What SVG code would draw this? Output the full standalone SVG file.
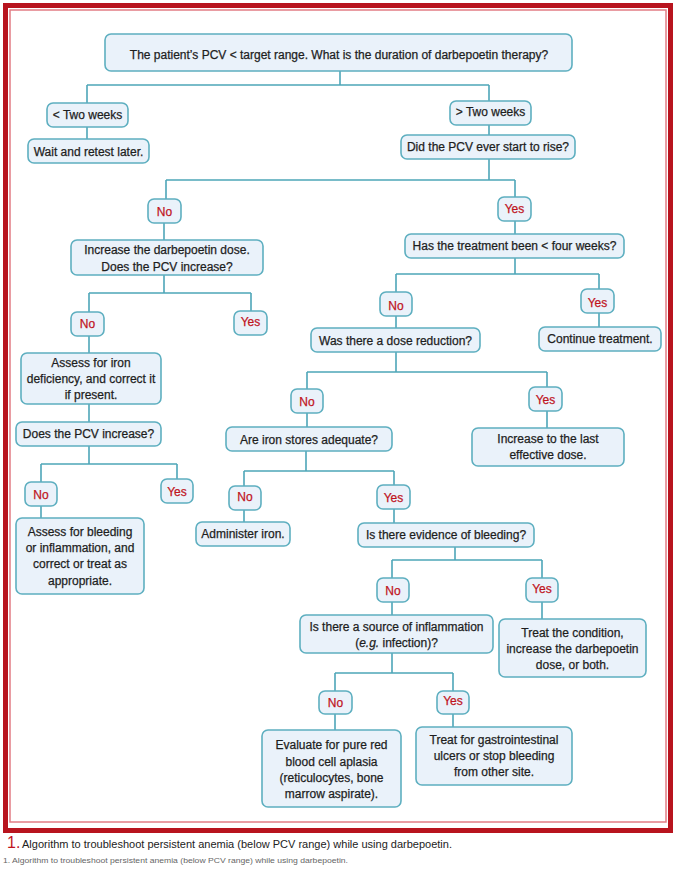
<svg xmlns="http://www.w3.org/2000/svg" width="680" height="872" viewBox="0 0 680 872">
<style>
.box{fill:#eaf2fa;stroke:#5eafc0;stroke-width:1.6}
.t{font-family:"Liberation Sans",Arial,sans-serif;font-size:12px;fill:#1e1e1e;stroke:#1e1e1e;stroke-width:0.25;text-anchor:middle}
.yn{font-family:"Liberation Sans",Arial,sans-serif;font-size:12px;fill:#c0141e;stroke:#c0141e;stroke-width:0.25;text-anchor:middle}
.c{fill:none;stroke:#4ea6b8;stroke-width:1.6}
</style>
<rect x="0" y="0" width="680" height="872" fill="#ffffff"/>
<rect x="5.5" y="5.5" width="665" height="825" fill="none" stroke="#b8141e" stroke-width="5"/>
<rect x="10" y="10" width="656" height="812" fill="none" stroke="#e27c84" stroke-width="1.5"/>

<g id="connectors" class="c">
<path d="M340 71V85M87 85H489M87 85V103M489 85V101"/>
<path d="M87 127V139"/>
<path d="M489 125V135"/>
<path d="M489 159V180M166 180H515M166 180V199M515 180V197"/>
<path d="M164 223V240"/>
<path d="M164 275V293M89 293H251M89 293V312M251 293V311"/>
<path d="M89 336V353"/>
<path d="M89 404V422"/>
<path d="M89 446V464M41 464H177M41 464V482M177 464V479"/>
<path d="M41 506V518"/>
<path d="M515 221V234"/>
<path d="M515 258V274M396 274H599M396 274V292M599 274V289"/>
<path d="M396 316V328M599 313V327"/>
<path d="M396 352V372M307 372H547M307 372V389M547 372V387"/>
<path d="M307 413V427M547 411V428"/>
<path d="M306 451V471M244 471H394M244 471V486M394 471V485"/>
<path d="M244 510V522M394 509V523"/>
<path d="M455 547V560M392 560H542M392 560V578M542 560V578"/>
<path d="M392 602V615M542 602V619"/>
<path d="M392 653V673M335 673H453M335 673V691M453 673V691"/>
<path d="M335 714V730M453 714V727"/>
</g>

<g id="n_top"><rect class="box" x="105" y="34" width="467" height="37" rx="6"/><text class="t" x="339" y="59">The patient’s PCV &lt; target range. What is the duration of darbepoetin therapy?</text></g>
<g id="n_lt2"><rect class="box" x="47" y="103" width="81" height="24" rx="6"/><text class="t" x="87.5" y="119">&lt; Two weeks</text></g>
<g id="n_wait"><rect class="box" x="28" y="139" width="121" height="24" rx="6"/><text class="t" x="88.5" y="156">Wait and retest later.</text></g>
<g id="n_gt2"><rect class="box" x="450" y="101" width="81" height="24" rx="6"/><text class="t" x="490.5" y="116">&gt; Two weeks</text></g>
<g id="n_rise"><rect class="box" x="401" y="135" width="174" height="24" rx="6"/><text class="t" x="488" y="151">Did the PCV ever start to rise?</text></g>
<g id="n_no1"><rect class="box" x="148" y="199" width="33" height="24" rx="6"/><text class="yn" x="164.5" y="215.5">No</text></g>
<g id="n_incdose"><rect class="box" x="71" y="240" width="192" height="35" rx="6"/><text class="t" x="167" y="254">Increase the darbepoetin dose.</text><text class="t" x="167" y="270.5">Does the PCV increase?</text></g>
<g id="n_no2"><rect class="box" x="71" y="312" width="33" height="24" rx="6"/><text class="yn" x="87.5" y="328">No</text></g>
<g id="n_yes2"><rect class="box" x="234" y="311" width="33" height="24" rx="6"/><text class="yn" x="250.5" y="326">Yes</text></g>
<g id="n_iron1"><rect class="box" x="21" y="353" width="140" height="51" rx="6"/><text class="t" x="91" y="366.5">Assess for iron</text><text class="t" x="91" y="383">deficiency, and correct it</text><text class="t" x="91" y="399">if present.</text></g>
<g id="n_pcv2"><rect class="box" x="16" y="422" width="145" height="24" rx="6"/><text class="t" x="88.5" y="438">Does the PCV increase?</text></g>
<g id="n_no3"><rect class="box" x="25" y="482" width="32" height="24" rx="6"/><text class="yn" x="41" y="499">No</text></g>
<g id="n_yes3"><rect class="box" x="161" y="479" width="32" height="24" rx="6"/><text class="yn" x="177" y="496">Yes</text></g>
<g id="n_bleed1"><rect class="box" x="16" y="518" width="128" height="76" rx="6"/><text class="t" x="80" y="536">Assess for bleeding</text><text class="t" x="80" y="552">or inflammation, and</text><text class="t" x="80" y="568">correct or treat as</text><text class="t" x="80" y="584.5">appropriate.</text></g>
<g id="n_yes1"><rect class="box" x="498" y="197" width="33" height="24" rx="6"/><text class="yn" x="514.5" y="213">Yes</text></g>
<g id="n_four"><rect class="box" x="405" y="234" width="219" height="24" rx="6"/><text class="t" x="514.5" y="250">Has the treatment been &lt; four weeks?</text></g>
<g id="n_no4"><rect class="box" x="380" y="292" width="32" height="24" rx="6"/><text class="yn" x="396" y="310">No</text></g>
<g id="n_yes4"><rect class="box" x="581" y="289" width="33" height="24" rx="6"/><text class="yn" x="597.5" y="307">Yes</text></g>
<g id="n_dosered"><rect class="box" x="311" y="328" width="169" height="24" rx="6"/><text class="t" x="395.5" y="344.5">Was there a dose reduction?</text></g>
<g id="n_cont"><rect class="box" x="539" y="327" width="122" height="24" rx="6"/><text class="t" x="600" y="343">Continue treatment.</text></g>
<g id="n_no5"><rect class="box" x="291" y="389" width="32" height="24" rx="6"/><text class="yn" x="307" y="406">No</text></g>
<g id="n_yes5"><rect class="box" x="529" y="387" width="33" height="24" rx="6"/><text class="yn" x="545.5" y="403.5">Yes</text></g>
<g id="n_ironst"><rect class="box" x="226" y="427" width="166" height="24" rx="6"/><text class="t" x="309" y="444">Are iron stores adequate?</text></g>
<g id="n_lastdose"><rect class="box" x="472" y="428" width="152" height="38" rx="6"/><text class="t" x="548" y="443">Increase to the last</text><text class="t" x="548" y="459">effective dose.</text></g>
<g id="n_no6"><rect class="box" x="229" y="486" width="32" height="24" rx="6"/><text class="yn" x="245" y="501">No</text></g>
<g id="n_yes6"><rect class="box" x="377" y="485" width="33" height="24" rx="6"/><text class="yn" x="393.5" y="502">Yes</text></g>
<g id="n_admin"><rect class="box" x="196" y="522" width="94" height="24" rx="6"/><text class="t" x="243" y="537.5">Administer iron.</text></g>
<g id="n_evid"><rect class="box" x="358" y="523" width="176" height="24" rx="6"/><text class="t" x="446" y="538.5">Is there evidence of bleeding?</text></g>
<g id="n_no7"><rect class="box" x="377" y="578" width="32" height="24" rx="6"/><text class="yn" x="393" y="595">No</text></g>
<g id="n_yes7"><rect class="box" x="526" y="578" width="32" height="24" rx="6"/><text class="yn" x="542" y="593">Yes</text></g>
<g id="n_inflam"><rect class="box" x="300" y="615" width="193" height="38" rx="6"/><text class="t" x="396.5" y="630.5">Is there a source of inflammation</text><text class="t" x="396.5" y="646.5">(<tspan font-style="italic">e.g.</tspan> infection)?</text></g>
<g id="n_treatcond"><rect class="box" x="499" y="619" width="147" height="58" rx="6"/><text class="t" x="572.5" y="636.5">Treat the condition,</text><text class="t" x="572.5" y="652.5">increase the darbepoetin</text><text class="t" x="572.5" y="669">dose, or both.</text></g>
<g id="n_no8"><rect class="box" x="319" y="691" width="33" height="23" rx="6"/><text class="yn" x="335.5" y="707">No</text></g>
<g id="n_yes8"><rect class="box" x="437" y="691" width="32" height="23" rx="6"/><text class="yn" x="453" y="705">Yes</text></g>
<g id="n_eval"><rect class="box" x="262" y="730" width="139" height="77" rx="6"/><text class="t" x="331.5" y="749">Evaluate for pure red</text><text class="t" x="331.5" y="765.5">blood cell aplasia</text><text class="t" x="331.5" y="781.5">(reticulocytes, bone</text><text class="t" x="331.5" y="798">marrow aspirate).</text></g>
<g id="n_gi"><rect class="box" x="416" y="727" width="156" height="58" rx="6"/><text class="t" x="494" y="744">Treat for gastrointestinal</text><text class="t" x="494" y="760">ulcers or stop bleeding</text><text class="t" x="494" y="776">from other site.</text></g>

<g id="caption">
<text x="7" y="848" font-family="'Liberation Sans',Arial,sans-serif" font-size="16" fill="#c0141e">1.</text>
<text x="22" y="848" font-family="'Liberation Sans',Arial,sans-serif" font-size="11" fill="#222" textLength="430" lengthAdjust="spacingAndGlyphs">Algorithm to troubleshoot persistent anemia (below PCV range) while using darbepoetin.</text>
<text x="3" y="863" font-family="'Liberation Sans',Arial,sans-serif" font-size="7.5" fill="#666" textLength="345" lengthAdjust="spacingAndGlyphs">1. Algorithm to troubleshoot persistent anemia (below PCV range) while using darbepoetin.</text>
</g>
</svg>
